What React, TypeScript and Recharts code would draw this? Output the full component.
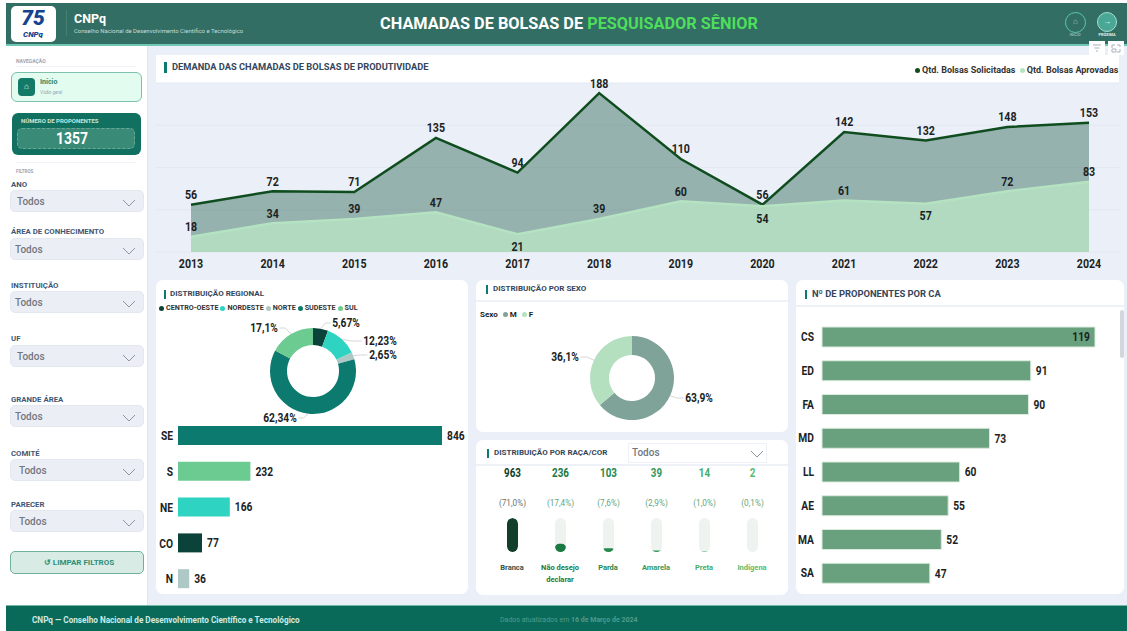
import React from "react";
import {
  AreaChart,
  Area,
  BarChart,
  Bar,
  Cell,
  CartesianGrid,
  PieChart,
  Pie,
  XAxis,
  YAxis,
} from "recharts";

const years = ["2013", "2014", "2015", "2016", "2017", "2018", "2019", "2020", "2021", "2022", "2023", "2024"];
const requested = [56, 72, 71, 135, 94, 188, 110, 56, 142, 132, 148, 153];
const approved = [18, 34, 39, 47, 21, 39, 60, 54, 61, 57, 72, 83];
const approvedBelow = ["2017", "2020", "2022"];
const demandTicks = [0, 25, 50, 75, 100, 125, 150, 175, 200];

const regionNames = ["CENTRO-OESTE", "NORDESTE", "NORTE", "SUDESTE", "SUL"];
const regionCodes = ["CO", "NE", "N", "SE", "S"];
const regionCounts = [77, 166, 36, 846, 232];
const regionShares = ["5,67%", "12,23%", "2,65%", "62,34%", "17,1%"];
const regionColors = ["#0b4239", "#2fd3c1", "#aec9c5", "#0c7a6f", "#6ccb90"];

const sexNames = ["M", "F"];
const sexCounts = [867, 490];
const sexShares = ["63,9%", "36,1%"];
const sexColors = ["#7fa398", "#b5e0c0"];

const raceNames = ["Branca", "Não desejo declarar", "Parda", "Amarela", "Preta", "Indígena"];
const raceCounts = [963, 236, 103, 39, 14, 2];
const raceShares = ["(71,0%)", "(17,4%)", "(7,6%)", "(2,9%)", "(1,0%)", "(0,1%)"];
const raceColors = ["#123f29", "#1b7a41", "#24894c", "#35985c", "#45ab6b", "#54bd72"];

const caCodes = ["CS", "ED", "FA", "MD", "LL", "AE", "MA", "SA"];
const caCounts = [119, 91, 90, 73, 60, 55, 52, 47];

const filters = [
  { label: "ANO", labelY: 185, boxY: 190, textX: 17 },
  { label: "ÁREA DE CONHECIMENTO", labelY: 232, boxY: 238, textX: 15 },
  { label: "INSTITUIÇÃO", labelY: 286, boxY: 291, textX: 15 },
  { label: "UF", labelY: 339, boxY: 345, textX: 17 },
  { label: "GRANDE ÁREA", labelY: 400, boxY: 405, textX: 15 },
  { label: "COMITÉ", labelY: 454, boxY: 459, textX: 19 },
  { label: "PARECER", labelY: 505, boxY: 510, textX: 19 },
];

const demandData = years.map((year, i) => ({ year, requested: requested[i], approved: approved[i] }));
const regionData = regionNames.map((name, i) => ({ name, code: regionCodes[i], value: regionCounts[i], share: regionShares[i], fill: regionColors[i] }));
const regionSorted = [...regionData].sort((a, b) => b.value - a.value);
const sexData = sexNames.map((name, i) => ({ name, value: sexCounts[i], share: sexShares[i], fill: sexColors[i] }));
const raceData = raceNames.map((name, i) => ({ name, value: raceCounts[i], share: raceShares[i], fill: raceColors[i] }));
const caData = caCodes.map((code, i) => ({ code, value: caCounts[i] }));

const FONT = "Roboto, sans-serif";
const INK = "#1c1f24";
const SLATE = "#34465c";
const SQUEEZE = 0.82; // the reference's numbers are set in a condensed face

// where the donut label texts sit, relative to the donut centre
const regionLabelPos = [
  [33, -48],
  [67, -30],
  [70, -16],
  [-33, 47],
  [-49, -43],
];
const sexLabelPos = [
  [67, 20],
  [-67, -21],
];

// bold text squeezed horizontally around its anchor
function Num({ x, y, size = 12.5, anchor = "middle", fill = INK, children }: any) {
  return (
    <text
      transform={`translate(${x} ${y}) scale(${SQUEEZE} 1)`}
      textAnchor={anchor}
      dominantBaseline="central"
      fontSize={size}
      fontWeight={700}
      fill={fill}
    >
      {children}
    </text>
  );
}

function YearTick({ x, y, payload }: any) {
  return <Num x={x} y={y + 4} size={13}>{payload.value}</Num>;
}

function CodeTick({ x, y, payload }: any) {
  return <Num x={x} y={y} anchor="end">{payload.value}</Num>;
}

function Txt({ x, y, size, color, weight = 400, children, center = false, squeeze = false }: any) {
  const parts = [center ? "translateX(-50%)" : "", squeeze ? `scaleX(${SQUEEZE})` : ""].join(" ").trim();
  return (
    <div
      style={{
        position: "absolute",
        left: x,
        top: y - size,
        transform: parts || undefined,
        height: size * 2,
        lineHeight: `${size * 2}px`,
        fontSize: size,
        color,
        fontWeight: weight,
        whiteSpace: "nowrap",
      }}
    >
      {children}
    </div>
  );
}

function Box({ x, y, w, h, style }: any) {
  return <div style={{ position: "absolute", left: x, top: y, width: w, height: h, boxSizing: "border-box", ...style }} />;
}

function Card({ x, y, w, h, title, divider = true, barY, barX = 8, titleX = 14, titleSize = 8 }: any) {
  const headY = barY ?? y + 14;
  return (
    <>
      <Box x={x} y={y} w={w} h={h} style={{ background: "#fff", borderRadius: 7 }} />
      {divider && <Box x={x} y={headY + 11} w={w} h={1.5} style={{ background: "#eef2f8" }} />}
      <Box x={x + barX} y={headY - 4} w={2} h={9} style={{ background: "#0c7a6f" }} />
      <Txt x={x + titleX} y={headY} size={titleSize} color={SLATE} weight={700}>{title}</Txt>
    </>
  );
}

function Chevron({ x, y }: any) {
  return (
    <svg style={{ position: "absolute", left: x, top: y }} width={14} height={8}>
      <polyline points="1,1 7,7 13,1" fill="none" stroke="#8d96a3" strokeWidth={1} />
    </svg>
  );
}

function Dot({ color, size = 5 }: any) {
  return <span style={{ display: "inline-block", width: size, height: size, borderRadius: "50%", background: color, marginRight: 2, verticalAlign: "middle" }} />;
}

function donutLabel(positions: number[][], shares: string[]) {
  return ({ cx, cy, midAngle, outerRadius, index }: any) => {
    const rad = (-midAngle * Math.PI) / 180;
    const [dx, dy] = positions[index];
    const tx = cx + dx;
    const ty = cy + dy;
    const startX = cx + outerRadius * Math.cos(rad);
    const startY = cy + outerRadius * Math.sin(rad);
    const gap = shares[index].length * 2.9 + 1;
    const endX = dx > 0 ? tx - gap : tx + gap;
    return (
      <g>
        <polyline points={`${startX},${startY} ${startX + (endX - startX) * 0.5},${ty} ${endX},${ty}`} fill="none" stroke="#d3d6d8" strokeWidth={1} />
        <Num x={tx} y={ty}>{shares[index]}</Num>
      </g>
    );
  };
}

function demandLabel(side: "up" | "auto") {
  return ({ x, y, value, index }: any) => {
    const below = side === "auto" && approvedBelow.includes(years[index]);
    return <Num x={x} y={below ? y + 12 : y - 10} size={13}>{value}</Num>;
  };
}

function RacePill({ x, width, height, y, background, fill, index, value }: any) {
  const id = `pill-${index}`;
  const cx = x + width / 2;
  return (
    <g>
      <clipPath id={id}>
        <rect x={x} y={background.y} width={width} height={background.height} rx={5.5} />
      </clipPath>
      <Num x={cx} y={background.y - 45} size={12} fill={fill}>{value}</Num>
      <text x={cx} y={background.y - 15} textAnchor="middle" dominantBaseline="central" fontSize={8.2} fill={index === 0 ? "#6a7470" : "#5fa880"}>{raceShares[index]}</text>
      <rect x={x} y={background.y} width={width} height={background.height} rx={5.5} fill="#eef3f0" />
      <rect x={x} y={y} width={width} height={height} rx={Math.min(5.5, height / 2)} fill={fill} clipPath={`url(#${id})`} />
    </g>
  );
}

function RaceTick({ x, y, index, payload }: any) {
  const words = payload.value === "Não desejo declarar" ? ["Não desejo", "declarar"] : [payload.value];
  return (
    <text x={x} y={y + 10} textAnchor="middle" fontSize={7.5} fontWeight={700} fill={index === 0 ? "#33504a" : raceColors[index]}>
      {words.map((word: string, i: number) => (
        <tspan key={word} x={x} dy={i === 0 ? 0 : 12}>{word}</tspan>
      ))}
    </text>
  );
}

function Sidebar() {
  return (
    <>
      <Txt x={16} y={61} size={5} color="#9aa5b5" weight={700}>NAVEGAÇÃO</Txt>
      <Box x={16} y={66} w={120} h={1} style={{ background: "#f0f3f7" }} />
      <Box x={11} y={72} w={131} h={30} style={{ background: "#e2fdf0", border: "1.5px solid #7fbfae", borderRadius: 6 }} />
      <Box x={18} y={78} w={17} h={18} style={{ background: "#147a68", borderRadius: 4 }} />
      <Txt x={26.5} y={87} size={8} color="#e2fdf0" center>⌂</Txt>
      <Txt x={40} y={82} size={7} color="#1d8a6e" weight={700}>Início</Txt>
      <Txt x={40} y={92} size={4.5} color="#9aa5b5">Visão geral</Txt>
      <Box x={12} y={113} w={129} h={42} style={{ background: "#11705f", borderRadius: 6 }} />
      <Box x={17} y={128} w={118} h={21} style={{ background: "#3a8a78", border: "1px dashed #6aa797", borderRadius: 5 }} />
      <Txt x={21} y={121} size={6} color="#c9e6dd" weight={700}>NÚMERO DE PROPONENTES</Txt>
      <Txt x={71.5} y={138} size={17} color="#fff" weight={700} center squeeze>1357</Txt>
      <Txt x={16} y={171} size={4.5} color="#9aa5b5" weight={700}>FILTROS</Txt>
      <Box x={16} y={162} w={120} h={1} style={{ background: "#f0f3f7" }} />
      {filters.map((f) => (
        <React.Fragment key={f.label}>
          <Txt x={11} y={f.labelY} size={7.8} color="#3f5775" weight={700}>{f.label}</Txt>
          <Box x={10} y={f.boxY} w={134} h={22} style={{ background: "#ebeef5", border: "1px solid #e3e7ef", borderRadius: 5 }} />
          <Txt x={f.textX} y={f.boxY + 12} size={10} color="#737780" weight={500}>Todos</Txt>
          <Chevron x={122} y={f.boxY + 9} />
        </React.Fragment>
      ))}
      <Box x={10} y={551} w={134} h={23} style={{ background: "#d8ebe4", border: "1.5px solid #6fb09c", borderRadius: 5 }} />
      <Txt x={79} y={562.5} size={8} color="#2f8f78" weight={700} center>↺ LIMPAR FILTROS</Txt>
    </>
  );
}

function Header() {
  return (
    <>
      <Box x={6} y={3} w={1121} h={43} style={{ background: "#336e64", borderBottom: "2px solid #6fc7b4" }} />
      <Box x={11} y={6} w={45} h={36} style={{ background: "#fff", borderRadius: 5 }} />
      <Txt x={33} y={18} size={21} color="#14438f" weight={900} center><i>75</i></Txt>
      <Txt x={33} y={35} size={8} color="#14438f" weight={900} center><i>CNPq</i></Txt>
      <Box x={66} y={10} w={1} h={26} style={{ background: "#477f75" }} />
      <Txt x={74} y={18} size={12.5} color="#fff" weight={700}>CNPq</Txt>
      <Txt x={74} y={31} size={5.95} color="#c5dcd7">Conselho Nacional de Desenvolvimento Científico e Tecnológico</Txt>
      <Txt x={569} y={24} size={16.3} color="#fff" weight={700} center>
        CHAMADAS DE BOLSAS DE <span style={{ color: "#4ede5c" }}>PESQUISADOR SÊNIOR</span>
      </Txt>
      <Box x={1065} y={12} w={21} h={21} style={{ border: "1.5px solid #5cc7b3", borderRadius: "50%" }} />
      <Txt x={1075.5} y={22} size={8} color="#9cc5bc" center>⌂</Txt>
      <Txt x={1075} y={35} size={3.8} color="#8fb5ac" weight={700} center>INÍCIO</Txt>
      <Box x={1097} y={12} w={20} h={20} style={{ background: "#49a796", border: "1.5px solid #a9ddd2", borderRadius: "50%" }} />
      <Txt x={1107} y={22} size={8} color="#fff" center>→</Txt>
      <Txt x={1107} y={35} size={3.8} color="#e6f2ef" weight={700} center>PRÓXIMA</Txt>
      <Box x={1089} y={41} w={16} h={14} style={{ background: "#fff" }} />
      <Box x={1108} y={41} w={16} h={14} style={{ background: "#fff" }} />
      <svg style={{ position: "absolute", left: 1092, top: 44 }} width={10} height={9}>
        <path d="M1,1H9M2.5,4H7.5M4,7H6" stroke="#a9afb8" fill="none" />
      </svg>
      <svg style={{ position: "absolute", left: 1111, top: 44 }} width={10} height={9}>
        <path d="M1,4V1H4M6,8H9V5M1,5V8H5V5H1M6,1H9V3" stroke="#a9afb8" fill="none" />
      </svg>
    </>
  );
}

export default function App() {
  return (
    <div style={{ position: "absolute", left: 0, top: 0, width: 1127, height: 631, overflow: "hidden", background: "#fff", fontFamily: FONT }}>
      <Box x={147} y={46} w={980} h={560} style={{ background: "#ebeff7", borderLeft: "1.5px solid #dfe5ef" }} />
      <Header />
      <Sidebar />

      <Box x={156} y={55} w={963} h={28} style={{ background: "#fff" }} />
      <Box x={164} y={62} w={2.5} h={11} style={{ background: "#0c7a6f" }} />
      <Txt x={172} y={67} size={9.3} color={SLATE} weight={700}>DEMANDA DAS CHAMADAS DE BOLSAS DE PRODUTIVIDADE</Txt>
      <div style={{ position: "absolute", left: 915, top: 64, fontSize: 9, fontWeight: 700, color: "#333", whiteSpace: "nowrap", lineHeight: "12px" }}>
        <Dot color="#0f4d1f" />Qtd. Bolsas Solicitadas <span style={{ marginLeft: 2 }} /><Dot color="#b5e3c2" />Qtd. Bolsas Aprovadas
      </div>

      <div style={{ position: "absolute", left: 147, top: 75 }}>
        <AreaChart width={980} height={200} data={demandData} margin={{ top: 8, right: 8, bottom: 0, left: 9 }}>
          <CartesianGrid horizontal vertical={false} stroke="#e3e8f1" />
          <XAxis
            dataKey="year"
            axisLine={false}
            tickLine={false}
            height={23}
            padding={{ left: 35, right: 30 }}
            interval={0}
            tick={<YearTick />}
          />
          <YAxis hide domain={[0, 200]} ticks={demandTicks} />
          <Area type="linear" dataKey="requested" stroke="#0f4d1f" strokeWidth={2.5} fill="#1f5c4a" fillOpacity={0.42} dot={false} isAnimationActive={false} label={demandLabel("up")} />
          <Area type="linear" dataKey="approved" stroke="#b5e3c2" strokeWidth={2.5} fill="#b6e0c4" fillOpacity={0.85} dot={false} isAnimationActive={false} label={demandLabel("auto")} />
        </AreaChart>
      </div>

      <Card x={156} y={280} w={312} h={314} title="DISTRIBUIÇÃO REGIONAL" divider={false} />
      <div style={{ position: "absolute", left: 159, top: 303, fontSize: 7.2, fontWeight: 700, color: "#333", whiteSpace: "nowrap", lineHeight: "10px", display: "flex", gap: 2 }}>
        {regionData.map((r) => (
          <span key={r.name}><Dot color={r.fill} />{r.name}</span>
        ))}
      </div>
      <div style={{ position: "absolute", left: 156, top: 310 }}>
        <PieChart width={312} height={120} margin={{ top: 0, right: 0, bottom: 0, left: 0 }}>
          <Pie
            data={regionData}
            dataKey="value"
            cx={157}
            cy={61}
            innerRadius={26}
            outerRadius={43}
            startAngle={90}
            endAngle={-270}
            stroke="none"
            labelLine={false}
            label={donutLabel(regionLabelPos, regionShares)}
            isAnimationActive={false}
          />
        </PieChart>
      </div>
      <div style={{ position: "absolute", left: 150, top: 418 }}>
        <BarChart width={318} height={179} layout="vertical" data={regionSorted} margin={{ top: 0, right: 26, bottom: 0, left: 0 }}>
          <XAxis type="number" hide domain={[0, 846]} />
          <YAxis type="category" dataKey="code" width={28} axisLine={false} tickLine={false} tickMargin={-1} tick={<CodeTick />} />
          <Bar
            dataKey="value"
            barSize={19}
            isAnimationActive={false}
            label={({ x, y, width, height, value }: any) => (
              <Num x={x + width + 5} y={y + height / 2} anchor="start">{value}</Num>
            )}
          >
            {regionSorted.map((r) => (
              <Cell key={r.code} fill={r.fill} />
            ))}
          </Bar>
        </BarChart>
      </div>

      <Card x={476} y={280} w={312} h={152} title="DISTRIBUIÇÃO POR SEXO" barY={289} barX={10} titleX={17} />
      <div style={{ position: "absolute", left: 480, top: 309, fontSize: 8, fontWeight: 700, color: INK, lineHeight: "12px", whiteSpace: "nowrap" }}>
        Sexo <span style={{ marginLeft: 3 }} /><Dot color={sexColors[0]} />M <span style={{ marginLeft: 3 }} /><Dot color={sexColors[1]} />F
      </div>
      <div style={{ position: "absolute", left: 476, top: 325 }}>
        <PieChart width={312} height={105} margin={{ top: 0, right: 0, bottom: 0, left: 0 }}>
          <Pie
            data={sexData}
            dataKey="value"
            cx={156}
            cy={53}
            innerRadius={23}
            outerRadius={42}
            startAngle={90}
            endAngle={-270}
            stroke="none"
            labelLine={false}
            label={donutLabel(sexLabelPos, sexShares)}
            isAnimationActive={false}
          />
        </PieChart>
      </div>

      <Card x={476} y={440} w={312} h={155} title="DISTRIBUIÇÃO POR RAÇA/COR" barY={453} barX={11} titleX={18} />
      <Box x={628} y={443} w={139} h={20} style={{ background: "#fff", border: "1px solid #eef2f8" }} />
      <Txt x={632} y={453} size={10} color="#737780" weight={500}>Todos</Txt>
      <Chevron x={750} y={450} />
      <div style={{ position: "absolute", left: 488, top: 465 }}>
        <BarChart width={288} height={125} data={raceData} margin={{ top: 53, right: 0, bottom: 0, left: 0 }}>
          <XAxis dataKey="name" axisLine={false} tickLine={false} height={38} interval={0} tick={<RaceTick />} />
          <YAxis hide domain={[0, 963]} />
          <Bar dataKey="value" barSize={11} isAnimationActive={false} shape={<RacePill />} />
        </BarChart>
      </div>

      <Card x={796} y={280} w={328} h={314} title="Nº DE PROPONENTES POR CA" barY={294} barX={9} titleX={16} titleSize={9.4} />
      <Box x={1120} y={310} w={4} h={48} style={{ background: "#d3d7dd", borderRadius: 2 }} />
      <div style={{ position: "absolute", left: 796, top: 320 }}>
        <BarChart width={328} height={270} layout="vertical" data={caData} margin={{ top: 0, right: 29, bottom: 0, left: 0 }}>
          <XAxis type="number" hide domain={[0, 119]} />
          <YAxis type="category" dataKey="code" width={26} axisLine={false} tickLine={false} tick={<CodeTick />} />
          <Bar
            dataKey="value"
            barSize={20}
            fill="#69a07e"
            stroke="#dcebdf"
            isAnimationActive={false}
            label={({ x, y, width, height, value }: any) => {
              const inside = value === Math.max(...caCounts);
              return (
                <Num x={inside ? x + width - 5 : x + width + 5} y={y + height / 2} anchor={inside ? "end" : "start"}>
                  {value}
                </Num>
              );
            }}
          />
        </BarChart>
      </div>

      <Box x={6} y={605} w={1121} h={26} style={{ background: "#0a6a5a", borderTop: "1px solid #6fb8a6" }} />
      <Txt x={32} y={620} size={8.2} color="#cfe9e2" weight={700}>CNPq — Conselho Nacional de Desenvolvimento Científico e Tecnológico</Txt>
      <Txt x={500} y={620} size={7} color="#4f9b8b">Dados atualizados em <b>16 de Março de 2024</b></Txt>
    </div>
  );
}
